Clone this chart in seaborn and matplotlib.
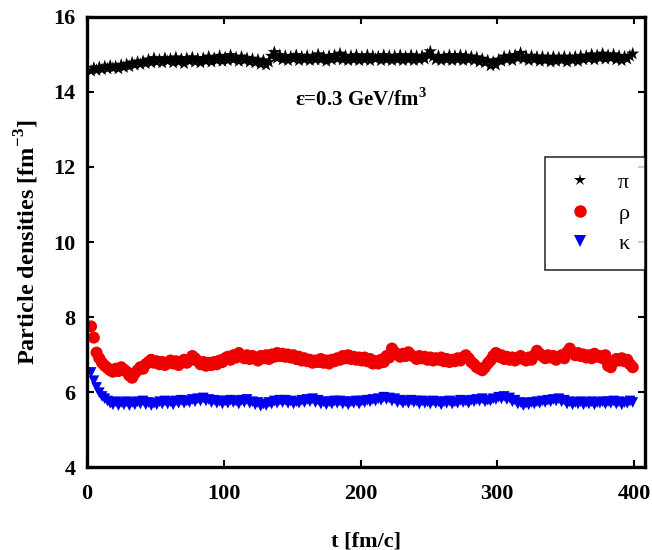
import numpy as np
import pandas as pd
import matplotlib
matplotlib.use("Agg")
import matplotlib.pyplot as plt
from matplotlib.lines import Line2D
import seaborn as sns

# time grid [fm/c], one sample every 2 fm/c
t = np.arange(3, 400, 2)

pi_density = [
    14.56, 14.64, 14.58, 14.66, 14.60, 14.68, 14.62, 14.70, 14.64, 14.68,
    14.62, 14.72, 14.66, 14.74, 14.68, 14.78, 14.72, 14.80, 14.74, 14.82,
    14.76, 14.86, 14.78, 14.90, 14.80, 14.86, 14.78, 14.90, 14.82, 14.88,
    14.78, 14.92, 14.80, 14.88, 14.76, 14.90, 14.82, 14.92, 14.80, 14.88,
    14.78, 14.90, 14.82, 14.94, 14.80, 14.90, 14.84, 14.96, 14.82, 14.92,
    14.84, 14.98, 14.86, 14.92, 14.82, 14.94, 14.84, 14.90, 14.80, 14.88,
    14.78, 14.86, 14.74, 14.84, 14.72, 14.80, 14.96, 15.06, 14.90, 14.98,
    14.86, 14.96, 14.84, 14.94, 14.88, 14.98, 14.84, 14.94, 14.86, 14.96,
    14.84, 14.94, 14.86, 15.00, 14.86, 14.94, 14.82, 14.96, 14.86, 14.98,
    14.88, 15.02, 14.86, 14.96, 14.84, 14.96, 14.86, 14.98, 14.84, 14.94,
    14.86, 14.98, 14.84, 14.96, 14.88, 14.94, 14.84, 14.98, 14.86, 14.96,
    14.84, 14.96, 14.86, 14.98, 14.84, 14.94, 14.86, 14.98, 14.84, 14.96,
    14.86, 14.96, 14.88, 15.00, 15.08, 14.94, 14.86, 14.96, 14.84, 14.94,
    14.86, 14.98, 14.84, 14.96, 14.86, 14.98, 14.84, 14.96, 14.86, 14.94,
    14.84, 14.92, 14.80, 14.88, 14.78, 14.84, 14.70, 14.80, 14.72, 14.86,
    14.82, 14.94, 14.86, 14.96, 14.84, 14.98, 14.90, 15.04, 14.88, 14.96,
    14.84, 14.96, 14.86, 14.94, 14.82, 14.94, 14.84, 14.92, 14.80, 14.94,
    14.82, 14.92, 14.84, 14.94, 14.80, 14.92, 14.84, 14.94, 14.82, 14.96,
    14.86, 14.96, 14.88, 15.00, 14.86, 14.98, 14.90, 15.02, 14.88, 14.98,
    14.90, 15.00, 14.86, 14.96, 14.84, 14.94, 14.88, 14.96, 15.02,
]

rho_density = [
    7.75, 7.45, 7.05, 6.90, 6.78, 6.70, 6.64, 6.58, 6.54, 6.62,
    6.56, 6.66, 6.60, 6.54, 6.44, 6.38, 6.50, 6.58, 6.66, 6.62,
    6.74, 6.80, 6.86, 6.78, 6.82, 6.74, 6.80, 6.72, 6.78, 6.84,
    6.76, 6.82, 6.72, 6.80, 6.86, 6.78, 6.84, 6.96, 6.90, 6.82,
    6.74, 6.80, 6.70, 6.78, 6.72, 6.80, 6.74, 6.84, 6.80, 6.90,
    6.94, 6.86, 6.98, 6.92, 7.04, 6.96, 6.90, 6.98, 6.88, 6.96,
    6.90, 6.84, 6.96, 6.90, 6.98, 6.88, 7.00, 6.94, 7.04, 6.96,
    7.02, 6.94, 7.00, 6.92, 6.98, 6.88, 6.94, 6.84, 6.90, 6.82,
    6.86, 6.78, 6.84, 6.80, 6.88, 6.78, 6.84, 6.76, 6.86, 6.82,
    6.90, 6.86, 6.96, 6.90, 6.98, 6.88, 6.94, 6.86, 6.92, 6.84,
    6.92, 6.82, 6.88, 6.76, 6.82, 6.76, 6.86, 6.80, 6.96, 6.92,
    7.16, 7.06, 7.00, 6.94, 7.02, 6.96, 7.06, 6.98, 6.94, 6.88,
    6.96, 6.90, 6.94, 6.86, 6.92, 6.84, 6.90, 6.86, 6.92, 6.82,
    6.88, 6.80, 6.86, 6.82, 6.90, 6.84, 6.92, 6.98, 6.90, 6.80,
    6.74, 6.66, 6.62, 6.58, 6.66, 6.76, 6.84, 6.96, 7.04, 6.94,
    6.98, 6.88, 6.94, 6.86, 6.92, 6.84, 6.90, 6.96, 6.88, 6.84,
    6.92, 6.86, 6.98, 7.10, 7.02, 6.96, 6.90, 6.98, 6.92, 6.96,
    6.86, 6.92, 6.98, 6.90, 7.06, 7.16, 7.06, 6.98, 7.04, 6.96,
    7.00, 6.92, 6.98, 6.90, 7.02, 6.94, 6.96, 6.90, 6.98, 6.70,
    6.66, 6.80, 6.88, 6.84, 6.90, 6.82, 6.86, 6.74, 6.66,
]

kappa_density = [
    6.52, 6.30, 6.12, 5.98, 5.88, 5.82, 5.76, 5.70, 5.66, 5.74,
    5.64, 5.72, 5.66, 5.74, 5.64, 5.72, 5.66, 5.74, 5.68, 5.76,
    5.66, 5.72, 5.64, 5.70, 5.66, 5.74, 5.68, 5.76, 5.68, 5.74,
    5.66, 5.76, 5.70, 5.78, 5.70, 5.76, 5.72, 5.80, 5.74, 5.82,
    5.76, 5.84, 5.76, 5.80, 5.72, 5.78, 5.70, 5.76, 5.68, 5.76,
    5.70, 5.78, 5.72, 5.76, 5.68, 5.78, 5.72, 5.80, 5.70, 5.74,
    5.66, 5.72, 5.62, 5.68, 5.64, 5.72, 5.68, 5.76, 5.70, 5.78,
    5.72, 5.78, 5.70, 5.76, 5.68, 5.74, 5.70, 5.78, 5.72, 5.80,
    5.74, 5.82, 5.72, 5.78, 5.68, 5.74, 5.66, 5.74, 5.68, 5.76,
    5.70, 5.76, 5.68, 5.74, 5.66, 5.74, 5.70, 5.76, 5.68, 5.76,
    5.72, 5.78, 5.74, 5.80, 5.76, 5.82, 5.78, 5.86, 5.80, 5.84,
    5.76, 5.82, 5.72, 5.78, 5.70, 5.76, 5.70, 5.78, 5.72, 5.76,
    5.68, 5.76, 5.70, 5.74, 5.68, 5.76, 5.70, 5.74, 5.66, 5.74,
    5.70, 5.76, 5.68, 5.74, 5.70, 5.78, 5.72, 5.76, 5.70, 5.78,
    5.74, 5.80, 5.76, 5.82, 5.74, 5.78, 5.76, 5.82, 5.80, 5.86,
    5.82, 5.88, 5.80, 5.84, 5.74, 5.78, 5.68, 5.72, 5.64, 5.70,
    5.66, 5.72, 5.68, 5.74, 5.70, 5.76, 5.72, 5.78, 5.74, 5.80,
    5.76, 5.82, 5.74, 5.78, 5.68, 5.74, 5.66, 5.72, 5.68, 5.74,
    5.66, 5.72, 5.68, 5.74, 5.66, 5.72, 5.70, 5.74, 5.68, 5.74,
    5.70, 5.76, 5.68, 5.74, 5.66, 5.72, 5.70, 5.76, 5.72,
]

species = ["π", "ρ", "κ"]
colors = {"π": "black", "ρ": "#ee0000", "κ": "#0000ee"}
markers = {"π": "*", "ρ": "o", "κ": "v"}
sizes = {"π": 100, "ρ": 75, "κ": 60}

df = pd.concat([
    pd.DataFrame({"t": t, "n": pi_density, "species": "π"}),
    pd.DataFrame({"t": t, "n": rho_density, "species": "ρ"}),
    pd.DataFrame({"t": t, "n": kappa_density, "species": "κ"}),
], ignore_index=True)

sns.set_style("ticks")
plt.rcParams["font.family"] = ["Liberation Serif", "DejaVu Serif"]
plt.rcParams["mathtext.fontset"] = "custom"
plt.rcParams["mathtext.bf"] = "Liberation Serif:bold"
plt.rcParams["mathtext.rm"] = "Liberation Serif"
for key in ["text.color", "axes.labelcolor", "xtick.color", "ytick.color",
            "axes.edgecolor"]:
    plt.rcParams[key] = "black"

fig = plt.figure(figsize=(6.52, 5.5), dpi=100)
ax = fig.add_axes([0.1334, 0.1509, 0.8559, 0.8182])

for sp in species:
    sub = df[df["species"] == sp]
    sns.scatterplot(data=sub, x="t", y="n", ax=ax, color=colors[sp],
                    marker=markers[sp], s=sizes[sp], edgecolor="none",
                    linewidth=0, legend=False)

ax.set_xlim(0, 408)
ax.set_ylim(4, 16)
ax.set_xticks([0, 100, 200, 300, 400])
ax.set_yticks([4, 6, 8, 10, 12, 14, 16])
ax.tick_params(direction="in", length=5, width=1.5, top=True, right=True,
               labelsize=16, colors="black")
ax.tick_params(axis="x", pad=12)
ax.tick_params(axis="y", pad=8)
for lab in ax.get_xticklabels() + ax.get_yticklabels():
    lab.set_fontweight("bold")
for s in ax.spines.values():
    s.set_linewidth(2.4)
    s.set_color("black")

ax.set_xlabel("t [fm/c]", fontsize=16, fontweight="bold", labelpad=20)
ax.set_ylabel(r"Particle densities [fm$^{\mathbf{-3}}$]", fontsize=17.5,
              fontweight="bold", labelpad=9)

ax.text(152, 13.8, r"ε=0.3 GeV/fm$^{\mathbf{3}}$", fontsize=15,
        fontweight="bold", ha="left", va="center")

handles = [Line2D([], [], linestyle="none", marker=markers[sp],
                  color=colors[sp], markersize={"π": 9, "ρ": 9, "κ": 8}[sp],
                  markeredgewidth=0)
           for sp in species]
leg = ax.legend(handles, species, loc="upper right",
                bbox_to_anchor=(1.0, 0.689), frameon=True,
                fancybox=False, edgecolor="black", fontsize=16,
                handlelength=1.8, handletextpad=0.8, borderpad=0.7,
                labelspacing=0.45, borderaxespad=0)
leg.get_frame().set_linewidth(1.2)

fig.savefig("out.png", dpi=100)
